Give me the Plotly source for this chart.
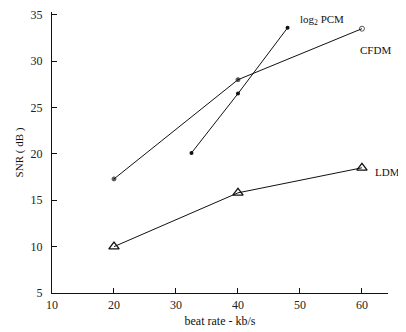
import plotly.graph_objects as go

# Data
cfdm_x = [20, 40, 60]
cfdm_y = [17.3, 28.0, 33.5]
pcm_x = [32.5, 40, 48]
pcm_y = [20.1, 26.5, 33.6]
ldm_x = [20, 40, 60]
ldm_y = [10.0, 15.8, 18.5]

x_ticks = [10, 20, 30, 40, 50, 60]
y_ticks = [5, 10, 15, 20, 25, 30, 35]

FONT = "Liberation Serif"
line = dict(color="#111", width=1)

fig = go.Figure()
fig.add_trace(go.Scatter(x=cfdm_x, y=cfdm_y, mode="lines+markers", line=line,
                         marker=dict(symbol=["circle", "circle", "circle-open"], size=[4, 4, 5],
                                     color="#111", line=dict(color="#111", width=1))))
fig.add_trace(go.Scatter(x=pcm_x, y=pcm_y, mode="lines+markers", line=line,
                         marker=dict(symbol="circle", size=4, color="#111")))
fig.add_trace(go.Scatter(x=ldm_x, y=ldm_y, mode="lines+markers", line=line,
                         marker=dict(symbol="triangle-up-open", size=9, color="#111",
                                     line=dict(color="#111", width=1.3))))

fig.add_annotation(x=pcm_x[-1], y=pcm_y[-1], text="log<sub>2</sub> PCM", showarrow=False,
                   xanchor="left", yanchor="middle", xshift=10, yshift=8,
                   font=dict(family=FONT, size=11, color="#111"))
fig.add_annotation(x=cfdm_x[-1], y=cfdm_y[-1], text="CFDM", showarrow=False,
                   xanchor="left", yanchor="middle", xshift=-4, yshift=-21,
                   font=dict(family=FONT, size=11, color="#111"))
fig.add_annotation(x=ldm_x[-1], y=ldm_y[-1], text="LDM", showarrow=False,
                   xanchor="left", yanchor="middle", xshift=11, yshift=-4,
                   font=dict(family=FONT, size=11, color="#111"))

# page body adds an 8px margin, so the figure is 8px smaller and shifted
fig.update_layout(
    width=398, height=324,
    margin=dict(l=44, r=18, t=4, b=39, autoexpand=False),
    paper_bgcolor="white", plot_bgcolor="white",
    showlegend=False,
    font=dict(family=FONT, size=12, color="#222"),
)
fig.update_xaxes(range=[10, 64.2], tickvals=x_ticks, ticks="inside", ticklen=5,
                 tickcolor="#111", showline=True, linecolor="#111", linewidth=1.2,
                 showgrid=False, zeroline=False, automargin=False,
                 ticklabeloverflow="allow",
                 title=dict(text="beat rate - kb/s", standoff=6,
                            font=dict(family=FONT, size=12, color="#111")))
fig.update_yaxes(range=[5, 35.3], tickvals=y_ticks, ticks="inside", ticklen=5,
                 tickcolor="#111", showline=True, linecolor="#111", linewidth=1.2,
                 showgrid=False, zeroline=False, ticklabelstandoff=6, automargin=False,
                 ticklabeloverflow="allow",
                 title=dict(text="SNR ( dB )", standoff=4,
                            font=dict(family=FONT, size=11, color="#111")))

fig.write_html("out.html")
